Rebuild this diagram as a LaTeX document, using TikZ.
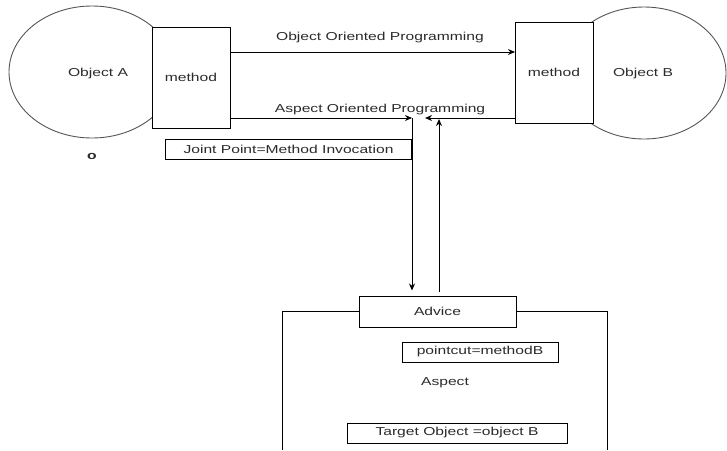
\documentclass[tikz,border=0pt]{standalone}
\usepackage{fontspec}
\setmainfont[FakeStretch=1.36]{Liberation Sans}
\usetikzlibrary{shapes.geometric,arrows.meta,calc}
\definecolor{ellgray}{HTML}{555555}
\definecolor{txtgray}{HTML}{2b2b2b}
\begin{document}
\begin{tikzpicture}[x=1pt,y=-1pt,
  every node/.style={font=\fontsize{11.5}{13}\selectfont, text=txtgray, inner sep=0pt, outer sep=0pt},
  oval/.style={ellipse, draw=ellgray, line width=0.9pt},
  box/.style={draw=black, fill=white, line width=1pt},
  lbl/.style={},
  arr/.style={draw=black, line width=1pt, -{Stealth[length=7pt,width=6pt]}},
  ln/.style={draw=black, line width=1pt}]
\useasboundingbox (0,0) rectangle (727,450);
% objects
\node[oval, minimum width=166, minimum height=132] (objA) at (92,72) {};
\node[oval, minimum width=164, minimum height=132] (objB) at (644,73) {};
\node[lbl] (objAl) at (98,74) {Object A};
\node[lbl] (objBl) at (643,74) {Object B};
\node[box, minimum width=78, minimum height=101] (mA) at (191,77.5) {method};
\node[box, minimum width=78, minimum height=101] (mB) at (554,72.5) {method};
\node[lbl, font=\fontsize{11.5}{13}\selectfont\bfseries] (o) at (92,156) {o};
% labels
\node[lbl] (oop) at (380,38) {Object Oriented Programming};
\node[lbl] (aop) at (380,110) {Aspect Oriented Programming};
\node[box, minimum width=246, minimum height=20] (jp) at (288.5,149) {Joint Point=Method Invocation};
% aspect
\draw[ln] (282,450) -- (282,311) -- (607,311) -- (607,450);
\node[box, minimum width=157, minimum height=31] (adv) at (437.5,311.5) {Advice};
\node[box, minimum width=156, minimum height=20] (pc) at (480,352) {pointcut=methodB};
\node[lbl] (asp) at (445,383) {Aspect};
\node[box, minimum width=220, minimum height=20] (tgt) at (457,433) {Target Object =object B};
% connectors
\coordinate (dn) at (412,118);
\coordinate (lt) at (425,118);
\coordinate (up) at (439,119);
\draw[arr] ([yshift=25.5pt]mA.east) -- ([yshift=20.5pt]mB.west);
\draw[arr] ([yshift=-40.5pt]mA.east) -- (dn);
\draw[arr] ([yshift=-45.5pt]mB.west) -- (lt);
\draw[arr, shorten >=5.5pt] (dn) -- (dn |- adv.north);
\draw[arr, shorten <=4pt] (up |- adv.north) -- (up);
\end{tikzpicture}
\end{document}
